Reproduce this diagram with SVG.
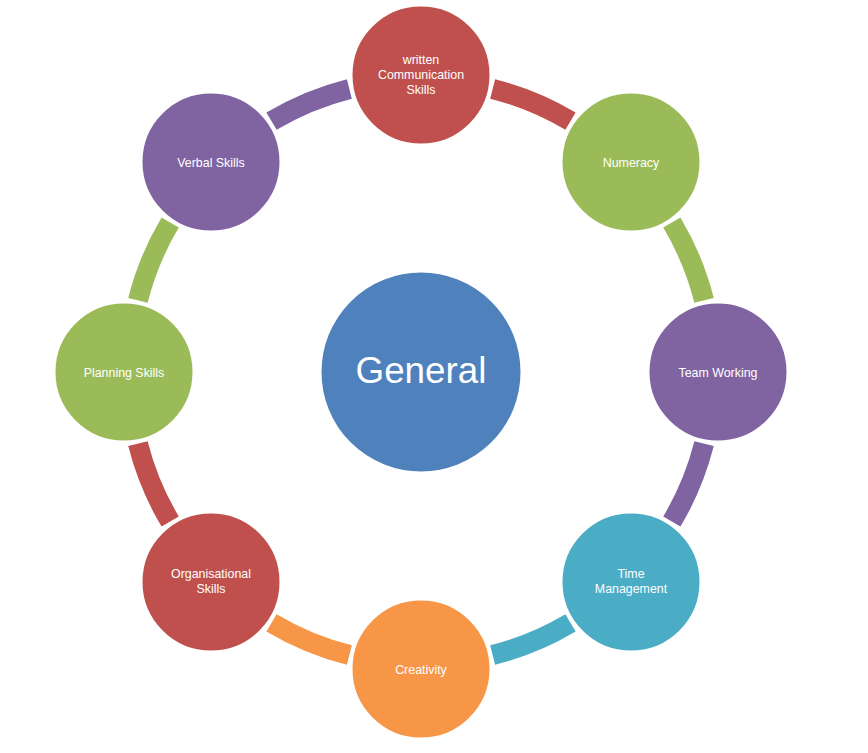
<svg xmlns="http://www.w3.org/2000/svg" width="868" height="753" viewBox="0 0 868 753">
<style>
.arc{fill:none;stroke-width:20;stroke-linecap:butt}
.node{stroke:#ffffff;stroke-width:3}
.lbl{font-family:"Liberation Sans",Arial,sans-serif;font-size:12.4px;fill:#ffffff;text-anchor:middle}
.big{font-family:"Liberation Sans",Arial,sans-serif;font-size:36.8px;fill:#ffffff;text-anchor:middle}
.red{fill:#C0504D}.green{fill:#9BBB59}.purple{fill:#8064A2}.teal{fill:#4BACC6}.orange{fill:#F79646}.blue{fill:#4F81BD}
</style>
<rect width="868" height="753" fill="#ffffff"/>
<g id="connectors">
<path class="arc" stroke="#C0504D" d="M492.63,88.94 A292,292 0 0 1 570.5,121.17"/>
<path class="arc" stroke="#9BBB59" d="M671.83,222.5 A292,292 0 0 1 704.06,300.37"/>
<path class="arc" stroke="#8064A2" d="M704.06,443.63 A292,292 0 0 1 671.83,521.5"/>
<path class="arc" stroke="#4BACC6" d="M570.5,622.83 A292,292 0 0 1 492.63,655.06"/>
<path class="arc" stroke="#F79646" d="M349.37,655.06 A292,292 0 0 1 271.5,622.83"/>
<path class="arc" stroke="#C0504D" d="M170.17,521.5 A292,292 0 0 1 137.94,443.63"/>
<path class="arc" stroke="#9BBB59" d="M137.94,300.37 A292,292 0 0 1 170.17,222.5"/>
<path class="arc" stroke="#8064A2" d="M271.5,121.17 A292,292 0 0 1 349.37,88.94"/>
</g>
<g id="center">
<circle class="node blue" cx="421" cy="372" r="101"/>
<text class="big" x="421" y="383">General</text>
</g>
<g id="written">
<circle class="node red" cx="421" cy="75" r="70"/>
<text class="lbl" x="421" y="64">written</text>
<text class="lbl" x="421" y="79">Communication</text>
<text class="lbl" x="421" y="94">Skills</text>
</g>
<g id="numeracy">
<circle class="node green" cx="631" cy="162" r="70"/>
<text class="lbl" x="631" y="166.5">Numeracy</text>
</g>
<g id="team">
<circle class="node purple" cx="718" cy="372" r="70"/>
<text class="lbl" x="718" y="376.5">Team Working</text>
</g>
<g id="time">
<circle class="node teal" cx="631" cy="582" r="70"/>
<text class="lbl" x="631" y="578">Time</text>
<text class="lbl" x="631" y="593">Management</text>
</g>
<g id="creativity">
<circle class="node orange" cx="421" cy="669" r="70"/>
<text class="lbl" x="421" y="673.5">Creativity</text>
</g>
<g id="organisational">
<circle class="node red" cx="211" cy="582" r="70"/>
<text class="lbl" x="211" y="578">Organisational</text>
<text class="lbl" x="211" y="593">Skills</text>
</g>
<g id="planning">
<circle class="node green" cx="124" cy="372" r="70"/>
<text class="lbl" x="124" y="376.5">Planning Skills</text>
</g>
<g id="verbal">
<circle class="node purple" cx="211" cy="162" r="70"/>
<text class="lbl" x="211" y="166.5">Verbal Skills</text>
</g>
</svg>
